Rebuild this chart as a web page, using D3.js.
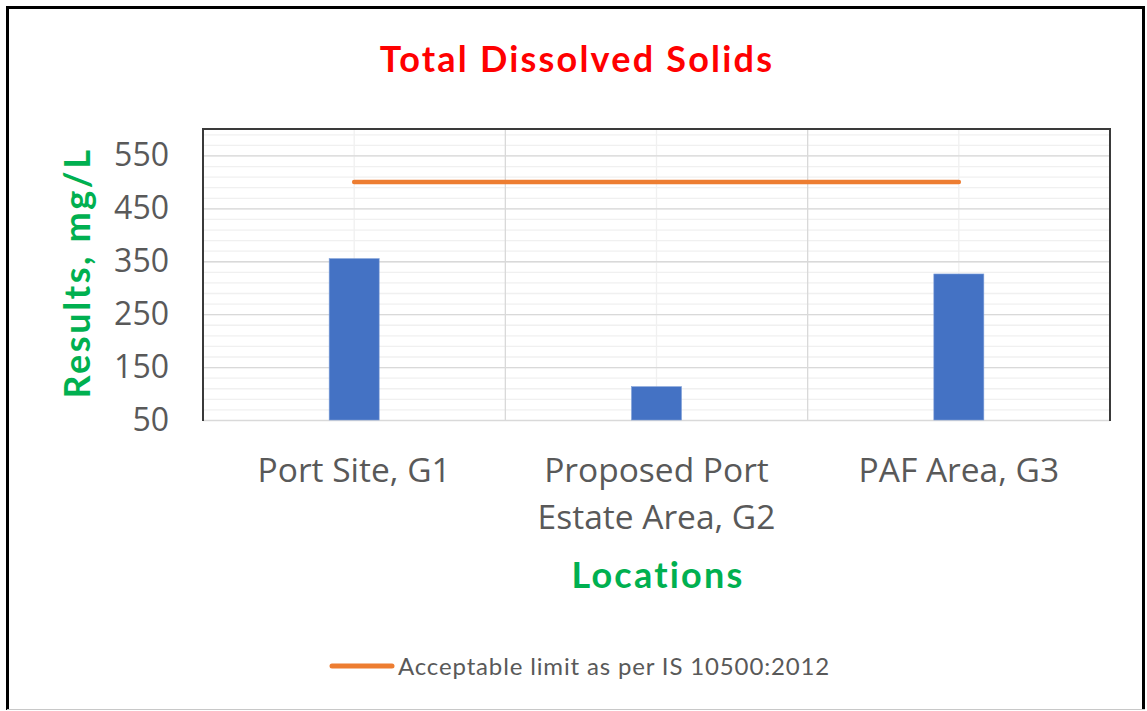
<!DOCTYPE html>
<html>
<head>
<meta charset="utf-8">
<script src="https://cdn.jsdelivr.net/npm/d3@7"></script>
<style>
  body { margin: 0; background: #fff; }
</style>
</head>
<body>
<div id="chart"></div>
<script>
// Chart data
const categories = ["Port Site, G1", "Proposed Port Estate Area, G2", "PAF Area, G3"];
const categoryLines = [["Port Site, G1"], ["Proposed Port", "Estate Area, G2"], ["PAF Area, G3"]];
const tdsValues = [355, 113, 326];
const limitValues = [500, 500, 500];
const yTicks = [50, 150, 250, 350, 450, 550];
const limitLabel = "Acceptable limit as per IS 10500:2012";

const width = 1147;
const height = 711;
const margin = { top: 129, right: 37, bottom: 291, left: 203 };
const plotW = width - margin.left - margin.right;
const plotH = height - margin.top - margin.bottom;

const svg = d3.select("#chart")
    .append("svg")
    .attr("width", width)
    .attr("height", height);

svg.append("rect").attr("width", width).attr("height", height).attr("fill", "#fff");

// Outer frame
svg.append("path")
    .attr("d", `M7.5,710 L7.5,7.5 L1143.5,7.5 L1143.5,710`)
    .attr("fill", "none")
    .attr("stroke", "#000")
    .attr("stroke-width", 3);
svg.append("line")
    .attr("x1", 7).attr("x2", 1145).attr("y1", 709.5).attr("y2", 709.5)
    .attr("stroke", "#c8c8c8").attr("stroke-width", 1);

const g = svg.append("g")
    .attr("transform", `translate(${margin.left}, ${margin.top})`);

const x = d3.scaleBand()
    .domain(categories)
    .range([0, plotW])
    .padding(0);

const y = d3.scaleLinear()
    .domain([50, 600])
    .range([plotH, 0]);

// Minor horizontal gridlines (every 20)
g.append("g")
    .call(d3.axisLeft(y).tickValues(d3.range(70, 600, 20)).tickSize(-plotW).tickFormat(""))
    .call(a => a.select(".domain").remove())
    .selectAll("line").attr("stroke", "#f0f0f0").attr("stroke-width", 1.3);

// Minor vertical gridlines at category centres
g.append("g")
    .selectAll("line")
    .data(categories)
    .enter()
    .append("line")
    .attr("x1", d => x(d) + x.bandwidth() / 2)
    .attr("x2", d => x(d) + x.bandwidth() / 2)
    .attr("y1", 0)
    .attr("y2", plotH)
    .attr("stroke", "#f0f0f0")
    .attr("stroke-width", 1.3);

// Major horizontal gridlines
g.append("g")
    .call(d3.axisLeft(y).tickValues(yTicks.slice(1)).tickSize(-plotW).tickFormat(""))
    .call(a => a.select(".domain").remove())
    .selectAll("line").attr("stroke", "#d9d9d9").attr("stroke-width", 1.3);

// Major vertical gridlines at category boundaries
g.append("g")
    .selectAll("line")
    .data(categories.slice(1))
    .enter()
    .append("line")
    .attr("x1", d => x(d))
    .attr("x2", d => x(d))
    .attr("y1", 0)
    .attr("y2", plotH)
    .attr("stroke", "#d9d9d9")
    .attr("stroke-width", 1.3);

// Bottom axis line
g.append("line")
    .attr("x1", 0).attr("x2", plotW)
    .attr("y1", plotH + 0.5).attr("y2", plotH + 0.5)
    .attr("stroke", "#d9d9d9").attr("stroke-width", 1.5);

// Bars
const barW = 50;
g.selectAll("rect.bar")
    .data(tdsValues)
    .enter()
    .append("rect")
    .attr("class", "bar")
    .attr("x", (d, i) => x(categories[i]) + x.bandwidth() / 2 - barW / 2)
    .attr("y", d => y(d))
    .attr("width", barW)
    .attr("height", d => plotH - y(d))
    .attr("fill", "#4472C4")
    .attr("stroke", "#7f9fd8")
    .attr("stroke-width", 0.6);

// Limit line
const limitLine = d3.line()
    .x((d, i) => x(categories[i]) + x.bandwidth() / 2)
    .y(d => y(d));

g.append("path")
    .datum(limitValues)
    .attr("d", limitLine)
    .attr("fill", "none")
    .attr("stroke", "#ED7D31")
    .attr("stroke-width", 4.5)
    .attr("stroke-linecap", "round");

// Plot frame (left, top, right dark)
g.append("path")
    .attr("d", `M0,${plotH + 1} L0,0 L${plotW},0 L${plotW},${plotH + 1}`)
    .attr("fill", "none")
    .attr("stroke", "#3a3a3a")
    .attr("stroke-width", 2);

// Y tick labels
g.append("g")
    .attr("transform", "translate(-34, 0)")
    .call(d3.axisLeft(y).tickValues(yTicks).tickSize(0).tickPadding(0))
    .call(a => a.select(".domain").remove())
    .selectAll("text")
    .attr("fill", "#595959")
    .style("font-family", "'Open Sans', sans-serif")
    .style("font-size", "32px");

// Category labels
const catLabels = g.append("g")
    .selectAll("text")
    .data(categories)
    .enter()
    .append("text")
    .attr("x", d => x(d) + x.bandwidth() / 2)
    .attr("y", plotH + 62)
    .attr("text-anchor", "middle")
    .attr("fill", "#595959")
    .style("font-family", "'Open Sans', sans-serif")
    .style("font-size", "33.5px");

catLabels.selectAll("tspan")
    .data((d, i) => categoryLines[i])
    .enter()
    .append("tspan")
    .attr("x", function () { return this.parentNode.getAttribute("x"); })
    .attr("dy", (d, i) => i === 0 ? 0 : 47)
    .text(d => d);

// Chart title
svg.append("text")
    .attr("x", 577)
    .attr("y", 72)
    .attr("text-anchor", "middle")
    .attr("fill", "#FF0000")
    .style("font-family", "Lato, sans-serif")
    .style("font-weight", "bold")
    .style("font-size", "36px")
    .style("letter-spacing", "2.2px")
    .text("Total Dissolved Solids");

// Axis titles
svg.append("text")
    .attr("x", 658)
    .attr("y", 588)
    .attr("text-anchor", "middle")
    .attr("fill", "#00B050")
    .style("font-family", "Lato, sans-serif")
    .style("font-weight", "bold")
    .style("font-size", "36px")
    .style("letter-spacing", "2.2px")
    .text("Locations");

svg.append("text")
    .attr("transform", "translate(90, 273) rotate(-90)")
    .attr("text-anchor", "middle")
    .attr("fill", "#00B050")
    .style("font-family", "Lato, sans-serif")
    .style("font-weight", "bold")
    .style("font-size", "36px")
    .style("letter-spacing", "2.6px")
    .text("Results, mg/L");

// Legend
const legend = svg.append("g")
    .attr("transform", "translate(330, 666)");

legend.append("line")
    .attr("x1", 2).attr("x2", 62)
    .attr("y1", 0).attr("y2", 0)
    .attr("stroke", "#ED7D31")
    .attr("stroke-width", 5)
    .attr("stroke-linecap", "round");

legend.append("text")
    .attr("x", 68)
    .attr("y", 8.5)
    .attr("fill", "#595959")
    .style("font-family", "Lato, sans-serif")
    .style("font-size", "24px")
    .style("letter-spacing", "0.85px")
    .text(limitLabel);
</script>
</body>
</html>
